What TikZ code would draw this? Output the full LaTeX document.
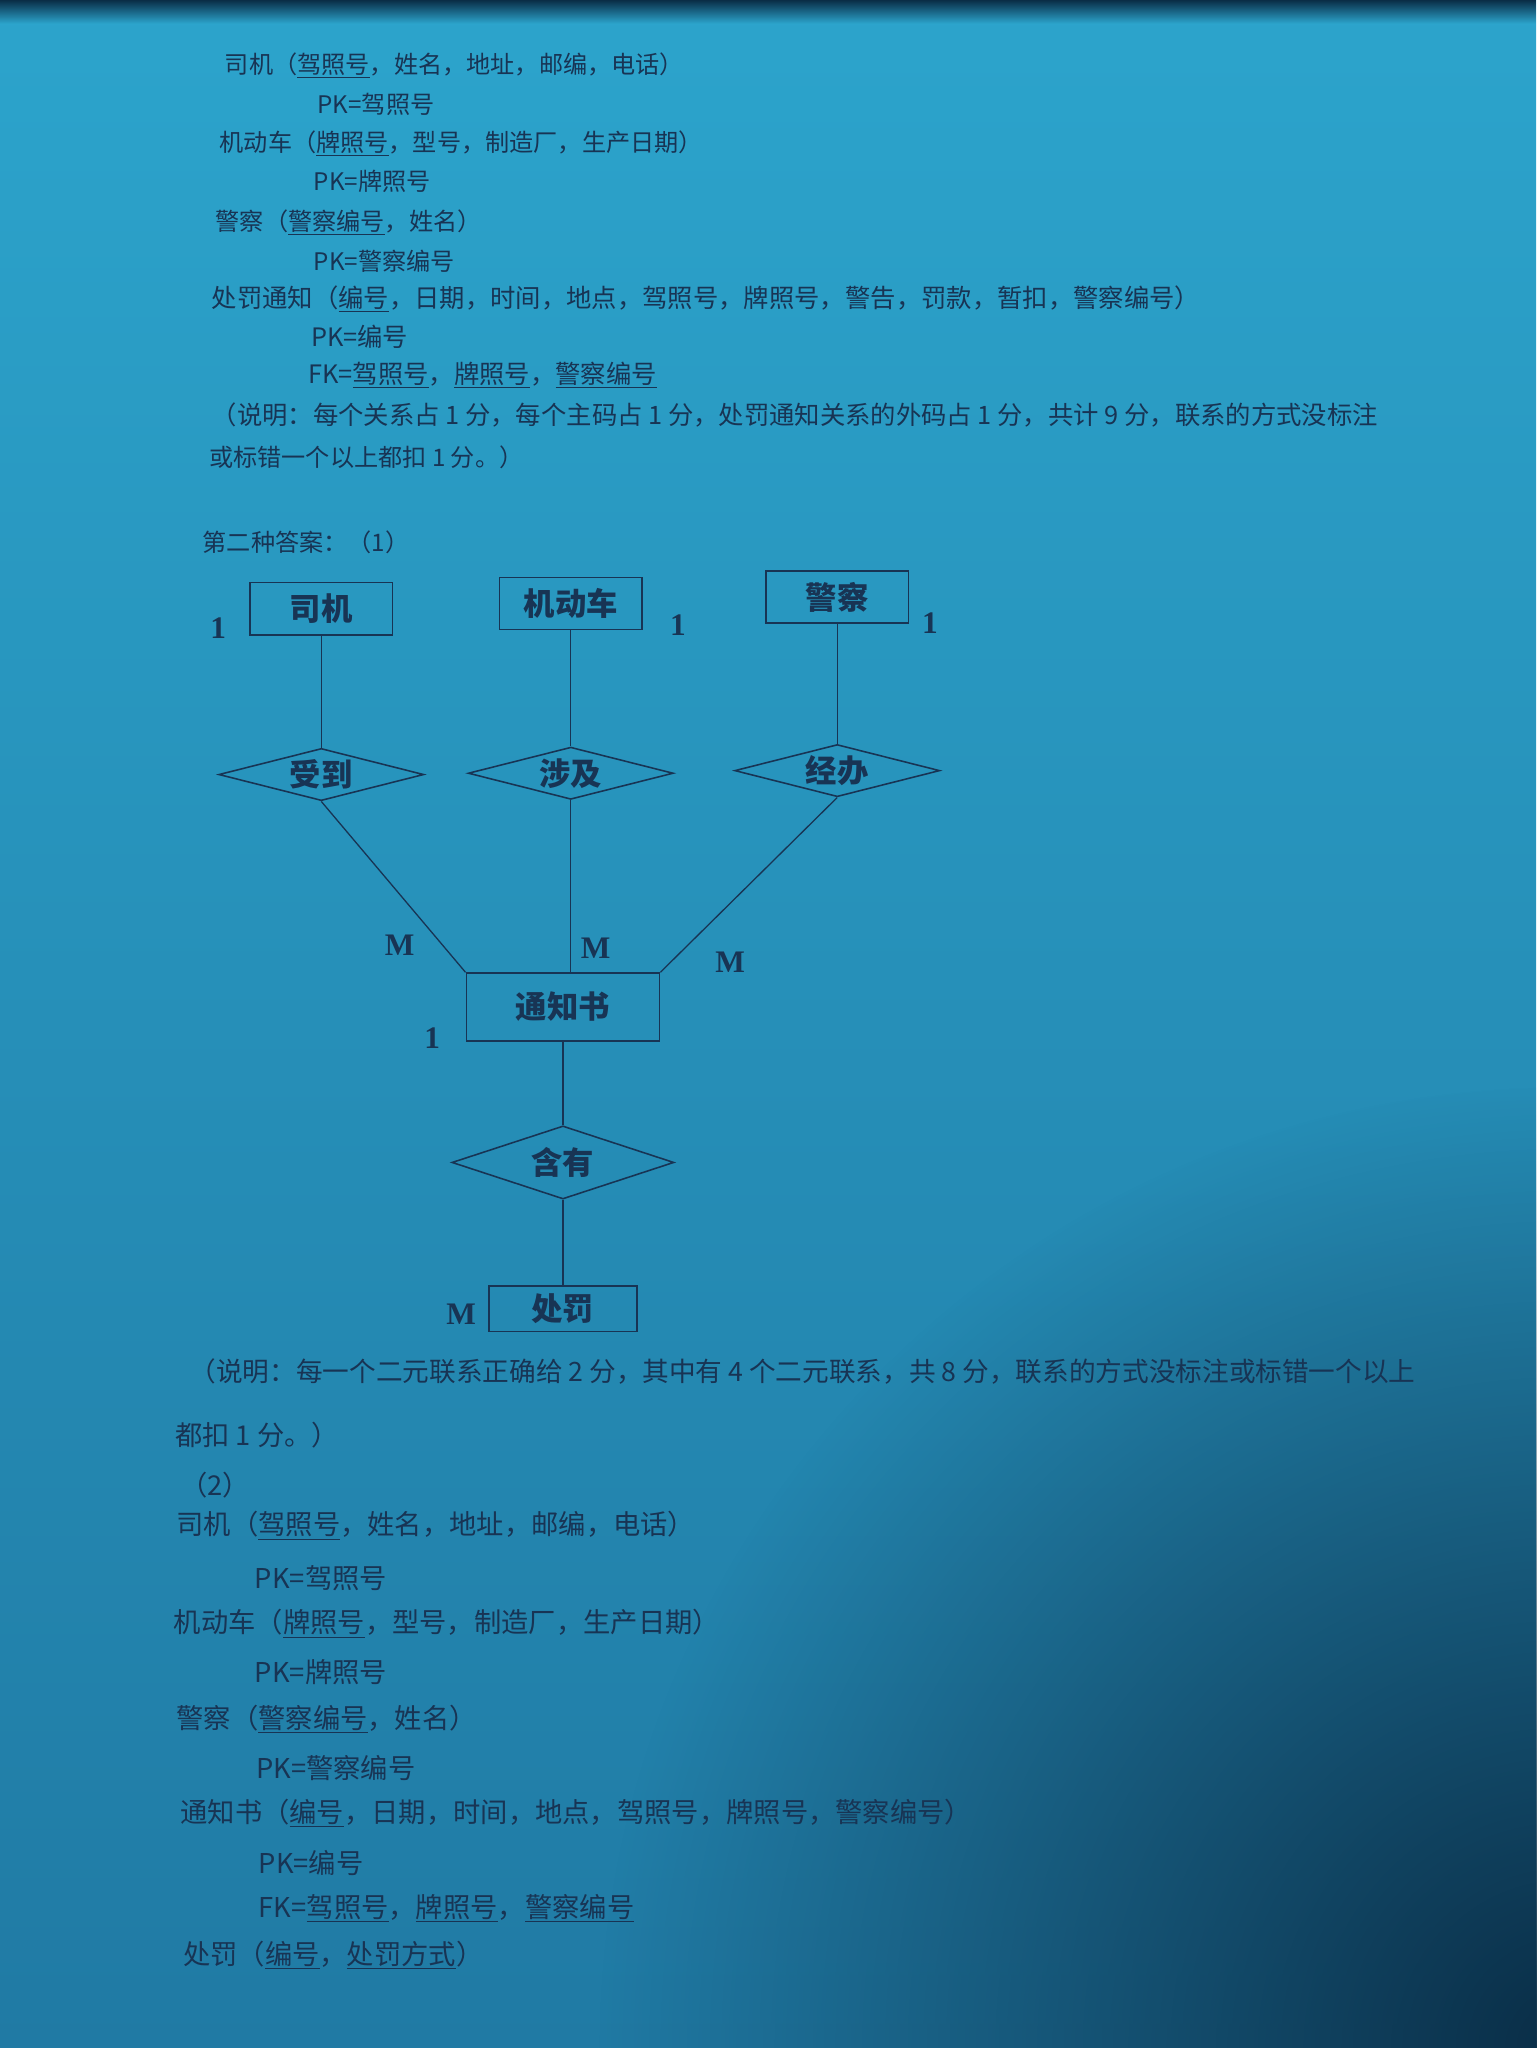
\documentclass[tikz,border=0pt]{standalone}
\usepackage{fontspec}
\setmainfont{Liberation Serif}
\newfontfamily\cjk{Noto Sans CJK SC}
\usetikzlibrary{shapes.geometric,fadings}

\definecolor{paper}{RGB}{44,164,204}
\definecolor{paperlow}{RGB}{32,122,164}
\definecolor{paperdark}{RGB}{10,45,70}
\definecolor{ink}{RGB}{24,52,84}

\tikzfading[name=fade out, inner color=transparent!0, outer color=transparent!100]

\tikzset{
    entity/.style={draw=ink, line width=1.2pt, rectangle, minimum width=109pt, minimum height=40pt,
        inner sep=0pt, text=ink, font=\cjk\bfseries\fontsize{24}{24}\selectfont},
    relation/.style={draw=ink, line width=1.2pt, diamond, aspect=4, minimum width=157pt, minimum height=40pt,
        inner sep=0pt, text=ink, font=\cjk\bfseries\fontsize{24}{24}\selectfont},
    edge/.style={draw=ink, line width=1pt},
    card/.style={inner sep=0pt, text=ink, font=\bfseries\fontsize{24}{24}\selectfont},
    txt/.style={anchor=west, inner sep=0pt, text=ink, font=\cjk\fontsize{18.5}{20}\selectfont},
    txtw/.style={txt, font=\cjk\fontsize{19.4}{21}\selectfont},
    txtb/.style={txt, font=\cjk\fontsize{20.9}{22}\selectfont},
}

\begin{document}
\begin{tikzpicture}[x=1pt, y=-1pt]
    % page
    \useasboundingbox (0,0) rectangle (1176,1568);
    \shade[top color=paper, bottom color=paperlow] (0,0) rectangle (1176,1568);
    \fill[paperdark, path fading=fade out] (1200,1568) circle (740pt);
    \fill[paperdark, path fading=south] (0,0) rectangle (1176,18);

    % relations, first answer
    \node[txt] (t1) at (172,50) {司机（\underline{驾照号}，姓名，地址，邮编，电话）};
    \node[txt] (t2) at (243,80) {PK=驾照号};
    \node[txt] (t3) at (168,110) {机动车（\underline{牌照号}，型号，制造厂，生产日期）};
    \node[txt] (t4) at (240,139) {PK=牌照号};
    \node[txt] (t5) at (165,170) {警察（\underline{警察编号}，姓名）};
    \node[txt] (t6) at (240,200) {PK=警察编号};
    \node[txtw] (t7) at (162,229) {处罚通知（\underline{编号}，日期，时间，地点，驾照号，牌照号，警告，罚款，暂扣，警察编号）};
    \node[txtw] (t8) at (238,258) {PK=编号};
    \node[txtw] (t9) at (236,287) {FK=\underline{驾照号}，\underline{牌照号}，\underline{警察编号}};
    \node[txtw] (t10) at (162,318) {（说明：每个关系占 1 分，每个主码占 1 分，处罚通知关系的外码占 1 分，共计 9 分，联系的方式没标注};
    \node[txt] (t11) at (160,350) {或标错一个以上都扣 1 分。）};
    \node[txt] (t12) at (155,415) {第二种答案：（1）};

    % E-R diagram
    \node[entity] (siji) at (246,466) {司机};
    \node[entity] (jidongche) at (437,462) {机动车};
    \node[entity] (jingcha) at (641,457) {警察};

    \node[relation] (shoudao) at (246,593) {受到};
    \node[relation] (shejiao) at (437,592) {涉及};
    \node[relation] (jingban) at (641,590) {经办};

    \node[entity, minimum width=148pt, minimum height=52pt] (tongzhishu) at (431,771) {通知书};
    \node[relation, minimum width=170pt, minimum height=56pt] (hanyou) at (431,890) {含有};
    \node[entity, minimum width=113pt, minimum height=35pt] (chufa) at (431,1002) {处罚};

    \draw[edge] (siji) -- (shoudao);
    \draw[edge] (jidongche) -- (shejiao);
    \draw[edge] (jingcha) -- (jingban);
    \draw[edge] (shoudao.south) -- (tongzhishu.north west);
    \draw[edge] (shejiao.south) -- (shejiao.south |- tongzhishu.north);
    \draw[edge] (jingban.south) -- (tongzhishu.north east);
    \draw[edge] (tongzhishu) -- (hanyou);
    \draw[edge] (hanyou) -- (chufa);

    \node[card] (n1) at (167,481) {1};
    \node[card] (n2) at (519,479) {1};
    \node[card] (n3) at (712,477) {1};
    \node[card] (m1) at (306,724) {M};
    \node[card] (m2) at (456,726) {M};
    \node[card] (m3) at (559,737) {M};
    \node[card] (n4) at (331,795) {1};
    \node[card] (m4) at (353,1006) {M};

    % relations, second answer
    \node[txt, font=\cjk\fontsize{20.4}{22}\selectfont] (b1) at (145,1050) {（说明：每一个二元联系正确给 2 分，其中有 4 个二元联系，共 8 分，联系的方式没标注或标错一个以上};
    \node[txtb] (b2) at (134,1099) {都扣 1 分。）};
    \node[txtb] (b3) at (138,1137) {（2）};
    \node[txtb] (b4) at (135,1168) {司机（\underline{驾照号}，姓名，地址，邮编，电话）};
    \node[txtb] (b5) at (195,1208) {PK=驾照号};
    \node[txtb] (b6) at (133,1243) {机动车（\underline{牌照号}，型号，制造厂，生产日期）};
    \node[txtb] (b7) at (195,1280) {PK=牌照号};
    \node[txtb] (b8) at (135,1316) {警察（\underline{警察编号}，姓名）};
    \node[txtb] (b9) at (196,1354) {PK=警察编号};
    \node[txtb] (b10) at (138,1388) {通知书（\underline{编号}，日期，时间，地点，驾照号，牌照号，警察编号）};
    \node[txtb] (b11) at (198,1426) {PK=编号};
    \node[txtb] (b12) at (198,1461) {FK=\underline{驾照号}，\underline{牌照号}，\underline{警察编号}};
    \node[txtb] (b13) at (140,1497) {处罚（\underline{编号}，\underline{处罚方式}）};
\end{tikzpicture}
\end{document}
